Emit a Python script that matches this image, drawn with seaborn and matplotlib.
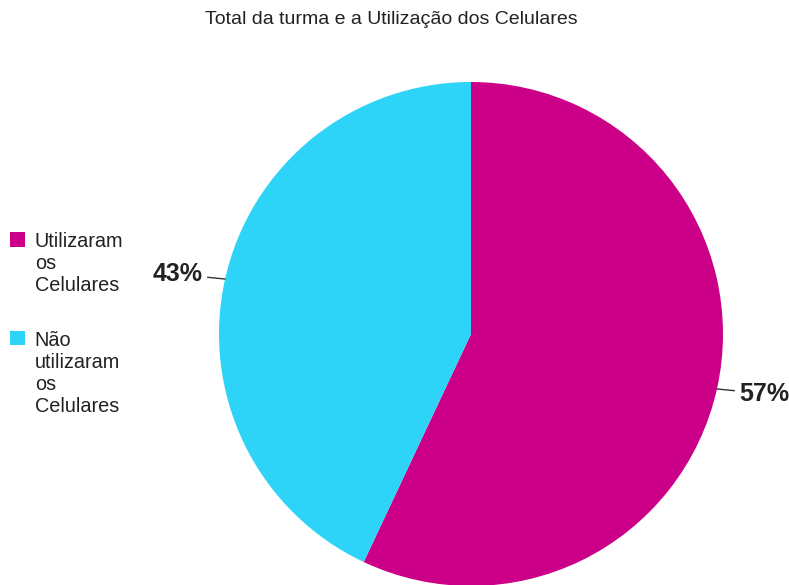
import matplotlib
matplotlib.use("Agg")
import matplotlib.pyplot as plt
import seaborn as sns
import numpy as np

categories = ["Utilizaram\nos\nCelulares", "Não\nutilizaram\nos\nCelulares"]
values = [57, 43]
pct_labels = ["57%", "43%"]
colors = ["#CC0088", "#2ED4F8"]
title = "Total da turma e a Utilização dos Celulares"

sns.set_theme(style="white")
plt.rcParams["font.family"] = ["Liberation Sans", "DejaVu Sans"]

fig = plt.figure(figsize=(7.89, 5.85), dpi=100)
ax = fig.add_axes([219 / 789, -1 / 585, 504 / 789, 504 / 585])
wedges, _ = ax.pie(values, colors=colors, startangle=90, counterclock=False,
                   radius=1.0, wedgeprops=dict(linewidth=0))
ax.set_xlim(-1, 1)
ax.set_ylim(-1, 1)
ax.set_aspect("equal")
ax.axis("off")

for w, lab in zip(wedges, pct_labels):
    ang = np.deg2rad((w.theta1 + w.theta2) / 2)
    x, y = np.cos(ang), np.sin(ang)
    ha = "left" if x > 0 else "right"
    ax.annotate(lab, xy=(x, y), xytext=(x * 1.09, y * 1.085),
                ha=ha, va="center", fontsize=18, fontweight="bold", color="#222222",
                arrowprops=dict(arrowstyle="-", color="#333333", lw=1, shrinkA=1, shrinkB=0),
                annotation_clip=False)

fig.text(391 / 789, 1 - 19 / 585, title, ha="center", va="center", fontsize=14, color="#222222")

leg = fig.legend(wedges, categories, loc="upper left", bbox_to_anchor=(10 / 789, 1 - 232 / 585),
                 frameon=False, fontsize=14.3, handlelength=0.75, handleheight=0.75,
                 handletextpad=0.5, labelspacing=1.8, borderaxespad=0, borderpad=0)
for t in leg.get_texts():
    t.set_color("#222222")
    t.set_linespacing(1.2)
for col in leg._legend_handle_box.get_children():
    col.align = "left"
    for hp in col.get_children():
        hp.align = "top"

fig.savefig("out.png", dpi=100)
